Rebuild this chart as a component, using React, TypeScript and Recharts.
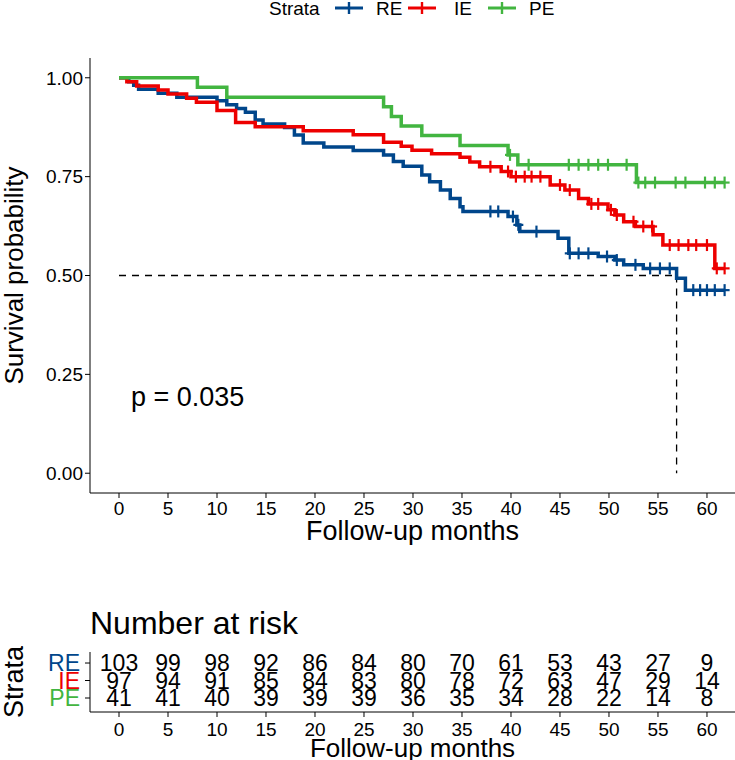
import React from 'react';
import { ComposedChart, Line, Scatter, XAxis, YAxis, ReferenceLine } from 'recharts';

const BLUE = '#00468B';
const RED = '#ED0000';
const GREEN = '#42B540';
const FONT = '"Liberation Sans", Arial, Helvetica, sans-serif';

// Kaplan-Meier step points (time in months, survival probability)
const RE_T = [0, 1.0, 1.5, 2.0, 4.0, 5.9, 10.0, 11.0, 12.0, 12.9, 13.9, 14.7, 16.9, 17.9, 18.8, 20.9, 23.9, 27.0, 28.0, 29.0, 30.9, 31.7, 32.8, 33.8, 34.8, 35.1, 39.7, 40.6, 40.9, 44.8, 45.9, 48.9, 50.6, 51.5, 53.5, 56.9, 57.8];
const RE_S = [1, 0.990, 0.981, 0.971, 0.961, 0.951, 0.942, 0.932, 0.922, 0.913, 0.893, 0.883, 0.874, 0.855, 0.835, 0.825, 0.816, 0.805, 0.788, 0.776, 0.754, 0.737, 0.716, 0.695, 0.674, 0.662, 0.649, 0.628, 0.611, 0.594, 0.556, 0.548, 0.539, 0.527, 0.518, 0.493, 0.463];
const RE_CENSOR = [37.9, 38.7, 40.2, 40.75, 42.6, 46.0, 46.9, 47.9, 49.8, 50.8, 52.7, 54.2, 55.2, 56.2, 58.6, 59.3, 60.0, 60.8, 61.8];

const IE_T = [0, 0.8, 1.8, 4.0, 5.0, 6.9, 7.9, 10.0, 11.9, 13.9, 18.8, 23.9, 27.0, 28.8, 29.9, 31.9, 34.8, 35.8, 36.8, 39.0, 40.0, 44.0, 45.5, 46.9, 47.9, 49.9, 50.6, 51.5, 52.7, 54.5, 55.5, 60.8];
const IE_S = [1, 0.990, 0.979, 0.969, 0.959, 0.948, 0.938, 0.917, 0.887, 0.876, 0.866, 0.856, 0.837, 0.827, 0.817, 0.808, 0.799, 0.787, 0.775, 0.763, 0.750, 0.729, 0.716, 0.695, 0.681, 0.666, 0.653, 0.636, 0.624, 0.603, 0.577, 0.518];
const IE_CENSOR = [37.9, 39.7, 40.5, 41.4, 42.1, 43.0, 45.0, 46.0, 48.2, 48.9, 50.2, 50.8, 52.5, 53.5, 54.4, 56.2, 57.1, 58.1, 58.9, 60.0, 61.0, 61.8];

const PE_T = [0, 8.0, 11.0, 27.0, 27.8, 28.8, 30.9, 34.8, 39.7, 40.7, 52.8];
const PE_S = [1, 0.976, 0.951, 0.927, 0.902, 0.878, 0.854, 0.829, 0.805, 0.780, 0.735];
const PE_CENSOR = [39.9, 41.8, 45.9, 46.9, 47.9, 48.9, 49.9, 51.8, 53.0, 53.7, 54.7, 56.8, 57.8, 59.8, 60.8, 61.8];

// Number at risk
const RISK_TIMES = [0, 5, 10, 15, 20, 25, 30, 35, 40, 45, 50, 55, 60];
const RE_RISK = [103, 99, 98, 92, 86, 84, 80, 70, 61, 53, 43, 27, 9];
const IE_RISK = [97, 94, 91, 85, 84, 83, 80, 78, 72, 63, 47, 29, 14];
const PE_RISK = [41, 41, 40, 39, 39, 39, 36, 35, 34, 28, 22, 14, 8];

const Y_TICKS = [0, 0.25, 0.5, 0.75, 1];
const MEDIAN_RE = 56.9;
const P_TEXT = 'p = 0.035';

const survAt = (T: number[], S: number[], t: number) => {
  let s = S[0];
  for (let i = 0; i < T.length; i++) if (T[i] <= t) s = S[i];
  return s;
};
const build = (T: number[], S: number[], C: number[]) => ({
  line: [...T.map((t, i) => ({ t, s: S[i] })), { t: C[C.length - 1], s: S[S.length - 1] }],
  censor: C.map((c) => ({ t: c, s: survAt(T, S, c) })),
});

const RE = build(RE_T, RE_S, RE_CENSOR);
const IE = build(IE_T, IE_S, IE_CENSOR);
const PE = build(PE_T, PE_S, PE_CENSOR);

const plus = (color: string) => (props: any) => {
  const { cx, cy } = props;
  return (
    <g>
      <line x1={cx} x2={cx} y1={cy - 6} y2={cy + 6} stroke={color} strokeWidth={2.2} />
      <line x1={cx - 5} x2={cx + 5} y1={cy} y2={cy} stroke={color} strokeWidth={2.2} />
    </g>
  );
};

const riskRows = [
  { key: 'RE', row: 3, vals: RE_RISK, color: BLUE },
  { key: 'IE', row: 2, vals: IE_RISK, color: RED },
  { key: 'PE', row: 1, vals: PE_RISK, color: GREEN },
];
const riskData = riskRows.map((r) => RISK_TIMES.map((t, i) => ({ t, y: r.row, n: r.vals[i] })));

const riskText = (props: any) => {
  const { cx, cy, payload } = props;
  return (
    <text x={cx} y={cy + 8} textAnchor="middle" fontSize={23} fill="#000" fontFamily={FONT}>
      {payload.n}
    </text>
  );
};

const strataTick = (props: any) => {
  const { x, y, payload } = props;
  const r = riskRows.find((q) => q.row === payload.value);
  return (
    <text x={x} y={y + 8} textAnchor="end" fontSize={23} fill={r ? r.color : '#000'} fontFamily={FONT}>
      {r ? r.key : ''}
    </text>
  );
};

const X_DOMAIN: [number, number] = [-2.96, 62.86];
const axisStyle = { stroke: '#000', strokeWidth: 1 };

const LegendKey = ({ color, left }: { color: string; left: number }) => (
  <svg width={28} height={14} style={{ position: 'absolute', left, top: 1 }}>
    <line x1={0} x2={28} y1={7} y2={7} stroke={color} strokeWidth={3} />
    <line x1={14} x2={14} y1={1} y2={13} stroke={color} strokeWidth={2.4} />
  </svg>
);

const legendText = (left: number): React.CSSProperties => ({
  position: 'absolute', left, top: 0, fontSize: 19, lineHeight: '17px', color: '#000', whiteSpace: 'nowrap',
});

export default function App() {
  return (
    <div style={{ position: 'absolute', left: 0, top: 0, width: 735, height: 760, background: '#fff', fontFamily: FONT, overflow: 'hidden' }}>
      {/* Legend */}
      <span style={legendText(269)}>Strata</span>
      <LegendKey color={BLUE} left={335} />
      <span style={legendText(376)}>RE</span>
      <LegendKey color={RED} left={408} />
      <span style={legendText(454)}>IE</span>
      <LegendKey color={GREEN} left={488} />
      <span style={legendText(529)}>PE</span>

      <div style={{ position: 'absolute', left: 0, top: 0 }}>
        <ComposedChart width={735} height={545} margin={{ top: 58, right: 0, bottom: 0, left: 0 }}>
          <XAxis
            dataKey="t"
            type="number"
            domain={X_DOMAIN}
            allowDataOverflow
            ticks={RISK_TIMES}
            interval={0}
            height={52}
            tickSize={5}
            tickMargin={4}
            axisLine={axisStyle}
            tickLine={axisStyle}
            tick={{ fill: '#000', fontSize: 19 }}
            label={{ value: 'Follow-up months', position: 'insideBottom', offset: 5, fill: '#000', fontSize: 27 }}
          />
          <YAxis
            type="number"
            domain={[-0.05, 1.05]}
            allowDataOverflow
            ticks={Y_TICKS}
            interval={0}
            tickFormatter={(v: number) => v.toFixed(2)}
            width={90}
            tickSize={5}
            axisLine={axisStyle}
            tickLine={axisStyle}
            tick={{ fill: '#000', fontSize: 19 }}
            label={{ value: 'Survival probability', angle: -90, position: 'insideLeft', offset: 14, fill: '#000', fontSize: 26, style: { textAnchor: 'middle' } }}
          />
          <ReferenceLine segment={[{ x: 0, y: 0.5 }, { x: MEDIAN_RE, y: 0.5 }]} stroke="#000" strokeWidth={1.3} strokeDasharray="7 6" />
          <ReferenceLine segment={[{ x: MEDIAN_RE, y: 0.5 }, { x: MEDIAN_RE, y: 0 }]} stroke="#000" strokeWidth={1.3} strokeDasharray="7 6" />
          <Line data={RE.line} dataKey="s" type="stepAfter" stroke={BLUE} strokeWidth={3.5} dot={false} isAnimationActive={false} />
          <Line data={IE.line} dataKey="s" type="stepAfter" stroke={RED} strokeWidth={3.5} dot={false} isAnimationActive={false} />
          <Line data={PE.line} dataKey="s" type="stepAfter" stroke={GREEN} strokeWidth={3.5} dot={false} isAnimationActive={false} />
          <Scatter data={RE.censor} dataKey="s" shape={plus(BLUE)} isAnimationActive={false} />
          <Scatter data={IE.censor} dataKey="s" shape={plus(RED)} isAnimationActive={false} />
          <Scatter data={PE.censor} dataKey="s" shape={plus(GREEN)} isAnimationActive={false} />
        </ComposedChart>
      </div>

      <div style={{ position: 'absolute', left: 131, top: 382, fontSize: 27, lineHeight: '30px', color: '#000', whiteSpace: 'nowrap' }}>{P_TEXT}</div>

      <div style={{ position: 'absolute', left: 90, top: 606, fontSize: 32, lineHeight: '35px', color: '#000', whiteSpace: 'nowrap' }}>Number at risk</div>

      <div style={{ position: 'absolute', left: 0, top: 545 }}>
        <ComposedChart width={735} height={215} margin={{ top: 107, right: 0, bottom: 0, left: 0 }}>
          <XAxis
            dataKey="t"
            type="number"
            domain={X_DOMAIN}
            allowDataOverflow
            ticks={RISK_TIMES}
            interval={0}
            height={48}
            tickSize={5}
            tickMargin={6}
            axisLine={axisStyle}
            tickLine={axisStyle}
            tick={{ fill: '#000', fontSize: 19 }}
            label={{ value: 'Follow-up months', position: 'insideBottom', offset: 3, fill: '#000', fontSize: 26 }}
          />
          <YAxis
            dataKey="y"
            type="number"
            domain={[0.2, 3.63]}
            allowDataOverflow
            ticks={[1, 2, 3]}
            interval={0}
            width={90}
            tickSize={5}
            tickMargin={5}
            axisLine={axisStyle}
            tickLine={axisStyle}
            tick={strataTick}
            label={{ value: 'Strata', angle: -90, position: 'insideLeft', offset: 13, fill: '#000', fontSize: 27, style: { textAnchor: 'middle' } }}
          />
          {riskData.map((d, i) => (
            <Scatter key={i} data={d} dataKey="y" shape={riskText} isAnimationActive={false} />
          ))}
        </ComposedChart>
      </div>
    </div>
  );
}
